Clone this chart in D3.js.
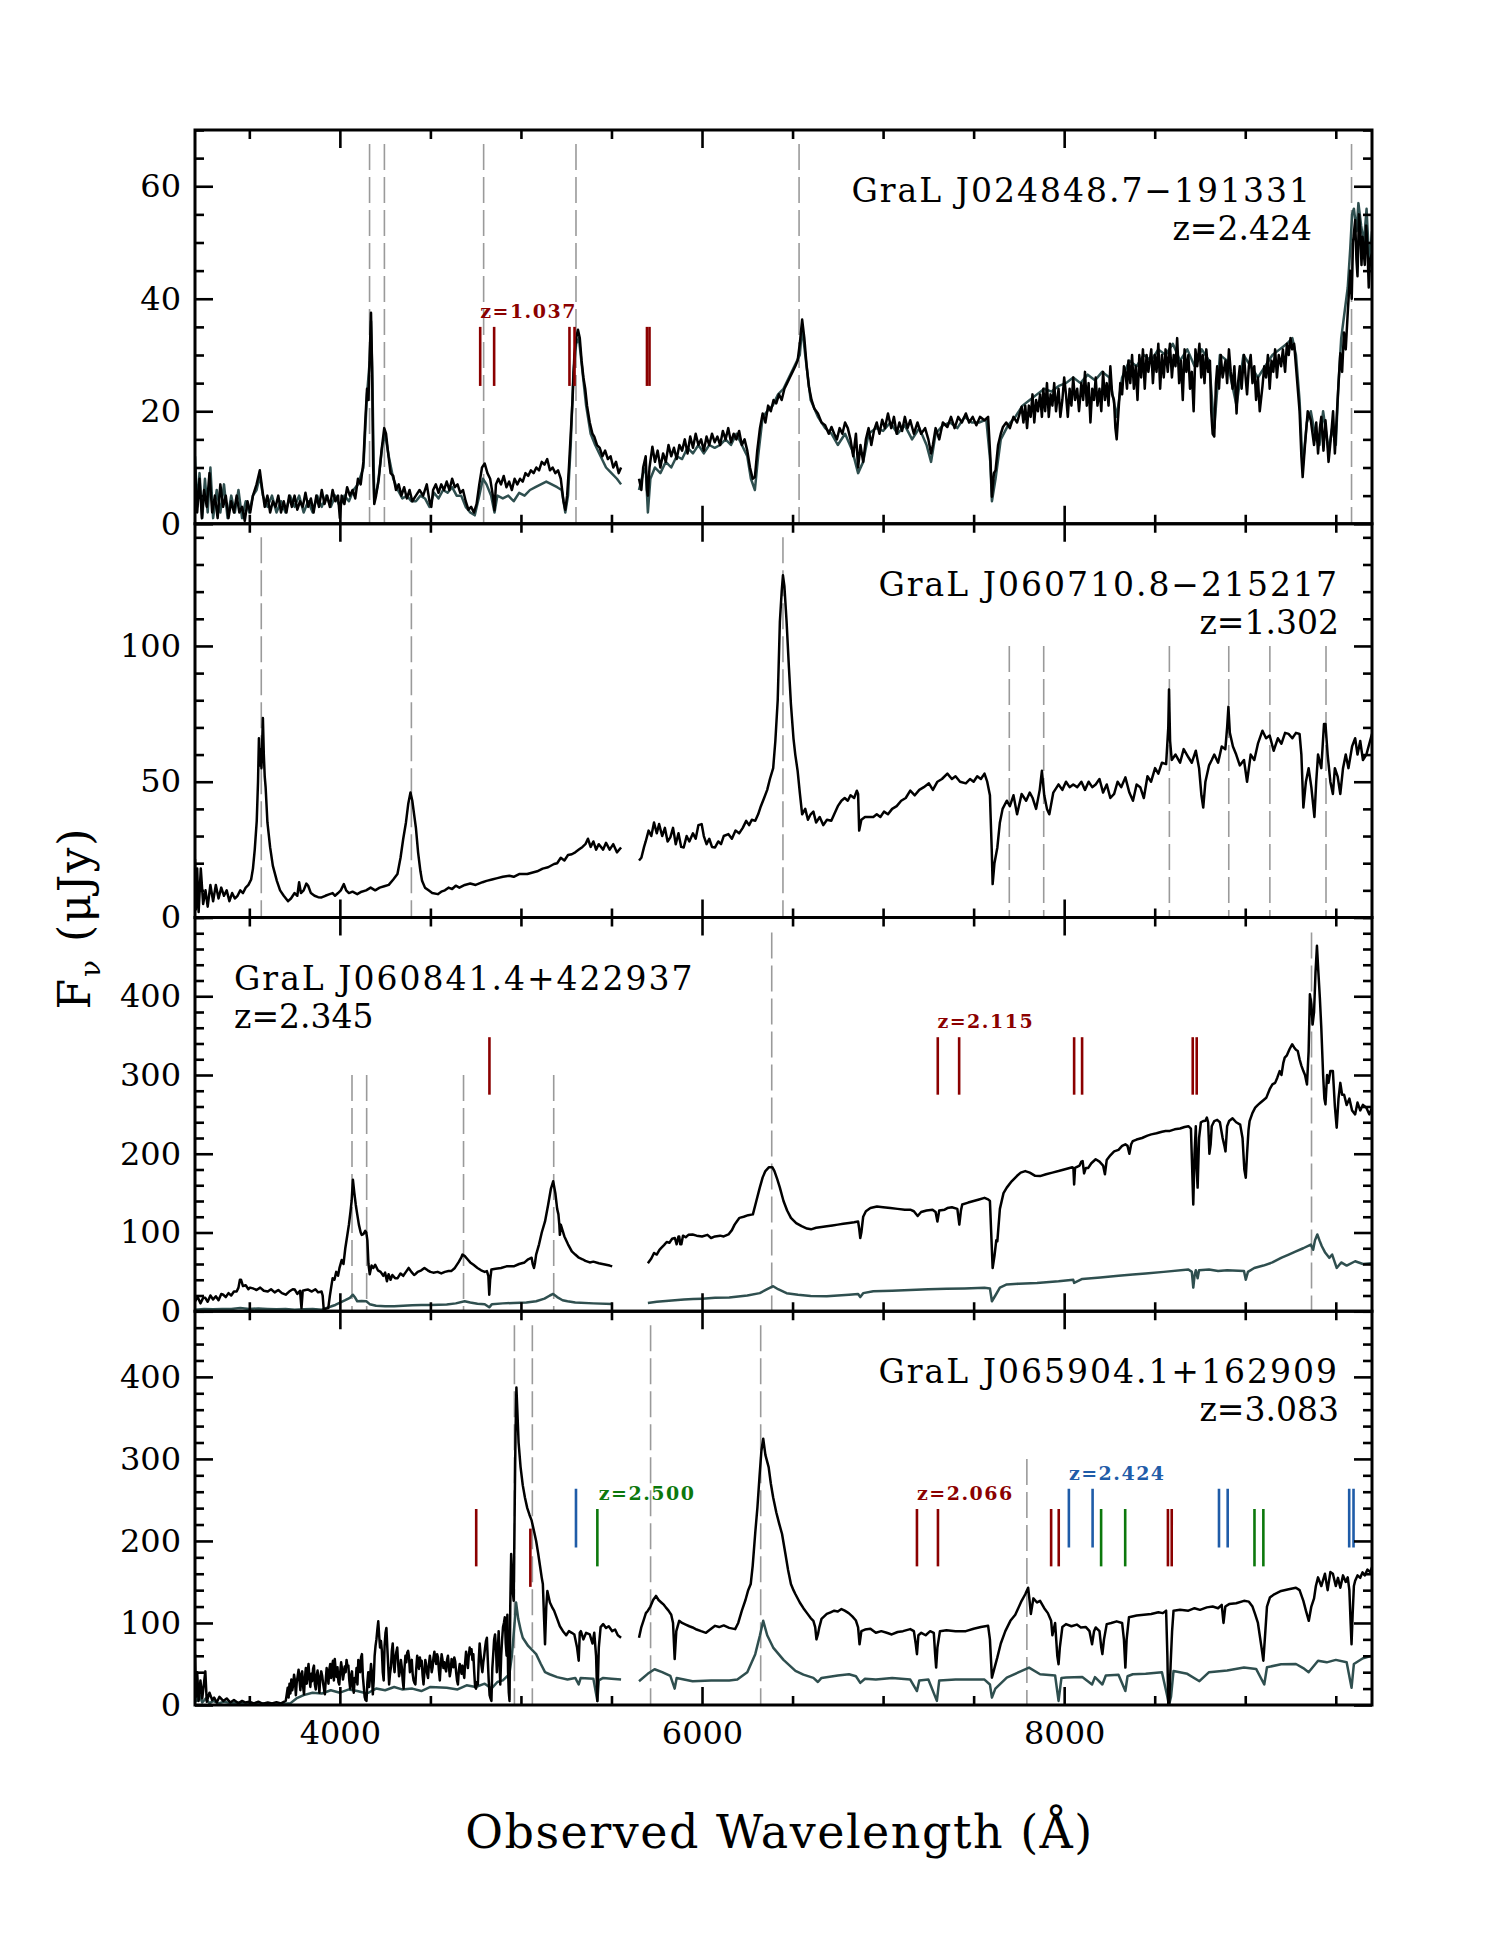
<!DOCTYPE html>
<html><head><meta charset="utf-8">
<script src="https://cdn.jsdelivr.net/npm/d3@7"></script>
<style>body{margin:0;background:#fff} text{font-family:"DejaVu Serif",serif;fill:#000}</style>
</head><body><svg id="chart" width="1495" height="1934"></svg>
<script>
// ---------------- DATA ----------------
const xDomain = [3200, 9700];
const xMajorTicks = [4000, 6000, 8000];
const xMinorStep = 500;
const panelNames = ["GraL J024848.7\u2212191331", "GraL J060710.8\u2212215217", "GraL J060841.4+422937", "GraL J065904.1+162909"];
const panelRedshifts = ["z=2.424", "z=1.302", "z=2.345", "z=3.083"];
const yMax = [70, 145, 500, 480];
const yMajorTicks = [[0, 20, 40, 60], [0, 50, 100], [0, 100, 200, 300, 400], [0, 100, 200, 300, 400]];
const yMinorStep = [5, 10, 20, 20];

// emission-line markers (wavelength, top of dashed line in flux units)
const p1Dashed = [[4164, 67.5], [4246, 67.5], [4794, 67.5], [5304, 67.5], [6536, 67.5], [9587, 67.5]];
const p2Dashed = [[3566, 140], [4395, 140], [6447, 140], [7697, 100], [7887, 100], [8581, 100], [8909, 100], [9136, 100], [9446, 100]];
const p3Dashed = [[4067, 300], [4148, 300], [4683, 300], [5181, 300], [6385, 481], [9366, 481]];
const p4Dashed = [[4964, 463], [5063, 463], [5716, 463], [6324, 463], [7794, 300]];

// absorber tick marks
const p1AbsRed = [4775, 4852, 5268, 5296, 5696, 5710];
const p3AbsRed = [4826, 7302, 7420, 8055, 8099, 8710, 8732];
const p4AbsRed = [4753, 7187, 7303, 7928, 7970, 8573, 8594];
const p4AbsRed2 = [5052];
const p4AbsBlue = [5304, 8026, 8157, 8855, 8903, 9574, 9598];
const p4AbsGreen = [5422, 8204, 8337, 9051, 9100];
const absLabels = ["z=1.037", "z=2.115", "z=2.066", "z=2.424", "z=2.500"];

// spectra: flat lists  wavelength, flux, wavelength, flux ...  (null = gap)
const p1Black = [3200,10,3212,2,3225,8,3238,1,3250,6,3265,3,3280,9,3295,2,3310,5,3325,1,3340,7,3355,3,3370,5,3385,1,3400,4,3415,2,3430,5,3445,2,3460,3,3475,0.5,3490,4,3505,2,3520,5,3540,7,3558,9.5,3572,6,3585,3,3600,5,3615,2,3630,4,3645,3,3660,5,3675,2,3690,4,3705,2,3720,5,3735,3,3750,5,3765,2.5,3780,4,3795,3,3810,5.5,3825,3,3840,4.5,3855,2,3870,5,3885,3,3900,6,3915,3.5,3930,5,3945,3,3960,6,3975,4,3990,5,4000,1,4010,5,4025,3.5,4040,6.5,4055,5,4070,6,4085,4.5,4100,8,4115,7,4130,11,4140,18,4150,24,4158,22,4165,30,4172,37.5,4178,28,4184,10,4190,3.5,4200,5,4215,8,4230,13,4245,17,4255,16,4265,13,4280,9,4295,8.5,4310,6,4325,7,4340,5,4355,6.5,4370,4.5,4385,6,4400,4,4420,5,4440,6,4460,5,4480,7,4495,4,4505,3,4515,6,4530,7,4545,5.5,4560,7,4575,6,4590,7.5,4605,6,4620,8,4635,6.5,4650,7,4665,5.5,4680,6,4695,4,4710,2.5,4725,3,4740,2,4755,3.5,4770,7,4785,10,4800,10.7,4815,9,4830,8,4845,5,4854,2.4,4862,7,4875,8,4890,7,4905,8.5,4920,6.5,4935,7.5,4950,6,4965,8,4980,7,4995,8,5010,7.5,5025,9,5040,8.5,5055,9.5,5070,9,5085,10,5100,9.5,5115,11,5130,10.5,5145,11.5,5160,9.5,5175,10,5190,9,5205,9.5,5220,8,5235,4,5245,2.5,5255,5,5265,10,5275,16,5285,22,5295,30,5305,33,5315,34.5,5325,33,5335,29,5345,26,5355,24,5365,21,5380,18,5395,16,5405,15.5,5420,14,5435,13.5,5450,12,5465,13,5480,11.5,5495,12,5510,10,5525,11,5540,9,5553,10,
5600,null,
5652,8,5665,6,5675,10,5689,12,5696,6,5701,5,5710,10,5726,13.7,5740,11,5755,13,5770,10,5785,12.5,5800,11,5815,14,5830,12,5845,13.5,5860,11.5,5875,14,5890,13,5905,15,5920,12.5,5935,15.5,5950,13.5,5965,16,5980,14,5995,15,6010,13,6025,15.5,6040,14,6055,16,6070,14.5,6085,15.5,6100,14,6115,16.5,6130,15,6145,17,6160,14.5,6175,16,6190,15,6205,16.5,6220,14,6235,15,6250,13,6265,10,6280,8,6292,8.3,6305,13,6320,17,6335,19.6,6350,18,6365,21,6380,20,6395,22,6410,21.4,6425,23,6440,22,6455,24,6470,25,6485,26,6500,27,6515,28,6528,29,6540,32,6553,36.3,6565,33,6578,28,6590,24.4,6605,22,6620,20.5,6640,19.6,6660,18,6680,17.5,6700,16,6715,17.2,6730,16,6745,15,6760,17,6775,16,6790,18,6805,17,6820,15,6835,12,6850,16,6862,10,6875,14,6890,11,6905,15,6920,17,6935,14,6950,16.6,6965,18,6980,16,6995,18.5,7010,17,7027,19.6,7045,17,7060,19,7075,16,7090,18,7105,16.5,7120,19,7135,17,7150,18.4,7170,16,7190,18,7210,16,7232,17,7250,15,7265,12.5,7275,14,7290,17,7310,15,7330,18,7355,17.2,7375,19,7395,17,7415,19,7435,18,7457,19.6,7475,18,7495,19,7515,17.5,7535,19,7560,18.4,7580,19,7592,12,7601,4.8,7612,9,7621,9.5,7635,14,7650,16,7662,17.2,7680,18,7700,17,7720,19,7740,18,7765,20.8,7775,18,7785,21,7795,17,7805,21,7815,19,7825,23,7835,18,7845,22,7855,20,7867,23,7877,19,7885,24,7895,20,7905,25,7915,19,7925,23,7935,21,7945,25,7955,20,7969,24,7979,19,7990,22,8000,26,8010,23,8020,19,8030,24,8040,21,8050,26,8060,22,8072,24,8082,20,8095,25,8105,22,8115,27,8125,21,8135,25,8145,18,8155,24,8165,22,8174,26,8184,21,8195,24,8205,20,8215,27,8225,22,8235,25,8245,21,8255,28,8265,23,8275,22,8283,17,8290,15,8300,20,8310,25,8320,23,8330,28,8338,27,8347,24,8355,29,8365,25,8375,30,8385,24,8395,28,8405,22,8415,30,8425,26,8435,31,8445,24,8455,30,8465,27,8481,31,8490,25,8500,30,8510,27,8520,32,8530,24,8540,30,8550,26,8560,31,8572,27,8584,32,8595,26,8605,30,8615,28,8624,33,8635,25,8645,29,8655,22,8665,31,8675,27,8686,30,8695,24,8705,27,8715,20,8725,31,8735,28,8747,32,8757,26,8765,30,8775,25,8785,31,8795,27,8805,29,8812,20,8820,16,8829,15.5,8838,25,8845,28,8855,24,8865,30,8875,26,8891,29,8900,25,8910,31,8920,27,8930,24,8940,28,8952,19.6,8960,25,8970,28,8980,24,8993,30,9002,26,9010,23,9020,28,9030,30,9040,25,9050,28,9060,22,9070,26,9080,20,9095,24.4,9105,28,9115,26,9125,30,9135,24,9145,29,9155,27,9165,31,9175,26,9185,30,9198,28,9208,31,9220,27,9230,32,9240,30,9250,33,9259,31,9270,32,9280,28,9290,24,9300,20,9310,12,9317,8.3,9330,14,9345,20,9362,18.4,9380,14,9392,18,9402,12.5,9412,17,9420,19,9432,13,9443,18.4,9452,15,9460,11,9475,16,9485,20,9495,12.5,9510,22,9525,30.3,9535,27,9545,34,9555,31,9566,37.5,9580,45,9588,40,9595,50,9607,54,9614,47,9620,44,9628,55,9635,52,9642,46,9648,51,9660,46,9668,53,9675,49,9682,42,9689,47,9700,48];

const p1Gray = [3200,12,3212,3,3225,9,3240,1,3255,8,3270,2,3285,10,3300,1,3320,6,3340,2,3360,7,3380,1,3400,5,3420,2,3440,6,3460,1,3480,4,3500,2,3520,5,3540,6,3558,8.5,3575,5,3600,3,3625,5,3650,2,3675,4,3700,2,3725,5,3750,3,3775,5,3800,2,3825,4,3850,2,3875,5,3900,3,3925,5,3950,3,3975,5,4000,3,4025,5,4050,4,4075,6,4100,7,4130,10,4150,23,4165,29,4172,36,4180,25,4190,4,4210,7,4235,14,4250,16,4270,12,4295,8,4320,6,4345,4.5,4370,5,4395,4,4420,4,4445,5,4470,4.5,4495,3,4520,5.5,4545,4.5,4570,6,4595,5.5,4620,6.5,4645,5,4670,5,4695,3,4720,2,4745,1.5,4770,5,4790,8,4810,7,4835,5,4854,2,4870,5,4900,4.5,4930,5,4960,4,4990,5.5,5020,5,5050,6,5080,6.5,5110,7,5140,7.5,5170,7,5200,6.5,5225,6,5245,2,5260,5,5275,14,5290,27,5305,32,5320,33,5340,27,5360,21,5385,16,5410,14,5440,12,5470,10,5500,9,5530,8,5553,7,
5600,null,
5652,6,5675,9,5689,10,5701,2,5715,8,5740,10,5770,9,5800,11,5830,10,5860,12,5890,11.5,5920,13.5,5950,12.5,5980,14,6010,12.5,6040,14,6070,13.5,6100,14,6130,15,6160,14,6190,16,6220,14,6250,12,6270,8,6292,6,6310,12,6335,19,6360,20,6390,21,6420,23,6450,24,6480,26,6510,28,6540,30,6553,35,6570,30,6600,22,6640,19,6680,17,6715,16,6750,14,6790,16,6830,13,6862,9,6890,11,6920,16,6960,17,7000,16.5,7040,18,7080,16,7120,17.5,7160,15,7200,17,7240,14,7265,11,7290,16,7330,17.5,7370,18,7410,17,7450,19,7490,18,7530,18,7570,18.5,7592,11,7601,4,7621,8,7650,15,7690,17.5,7730,19,7770,21,7810,22,7850,23,7890,24,7930,23.5,7970,24.5,8010,25,8050,26,8090,25,8130,26.5,8170,25.5,8210,27,8250,26,8290,19,8320,26,8360,29,8400,28,8440,30,8480,29,8520,31,8560,30,8600,32,8640,29,8680,31,8720,28,8760,31,8800,29,8829,17,8860,30,8900,29,8952,21,8990,30,9030,28,9070,26,9110,28,9150,30,9190,31,9230,32,9260,33,9280,30,9300,22,9317,10,9340,18,9362,20,9390,15,9410,14,9430,20,9460,13,9480,17,9500,14,9515,25,9530,33,9550,38,9566,42,9580,49,9590,55,9600,56,9615,52,9625,57,9640,53,9655,50,9670,56,9685,46,9700,52];

const p2Black = [3200,21.5,3205,3,3212,18,3220,2,3232,18,3245,5,3258,10,3270,4,3285,12,3300,6,3315,12,3330,7,3345,11,3360,8,3375,10,3390,6,3405,9,3420,7,3435,8,3450,10,3465,9,3480,11,3495,12,3510,14,3520,18,3530,25,3541,35.6,3548,50,3553,66,3558,56,3562,62,3567,55,3575,73.5,3580,60,3585,52,3590,48,3600,35,3615,25.8,3630,19,3652,13.5,3670,10,3690,8,3714,6,3730,7,3750,9,3765,8,3775,13,3785,9,3800,10,3815,12.5,3825,11.7,3840,9,3860,8,3880,7.5,3899,7.4,3920,8,3940,8.5,3960,9,3973,8,3990,9,4005,10,4022,12.3,4035,10,4050,9,4070,9.5,4096,8.6,4120,9.5,4145,10,4170,11,4195,10,4220,11,4245,11.5,4270,12,4295,14,4318,16,4335,22,4350,29,4365,35,4378,42,4390,46,4400,43,4410,38,4420,33,4432,24,4445,17,4454,13.5,4470,11,4490,10,4510,9,4541,8.6,4560,9.5,4580,10,4600,11,4620,10.5,4640,11.7,4660,11,4690,12,4720,12.5,4750,12,4788,13,4810,13.5,4840,14,4870,14.5,4900,15,4936,15.4,4960,15,4990,16,5035,16,5060,16.5,5090,17,5120,18,5150,18.5,5183,19.7,5200,20,5220,22,5240,21,5260,23,5281,23.3,5300,24,5320,25,5340,26,5356,27,5370,29,5385,26,5400,28,5415,25,5430,27,5454,25,5470,27.5,5490,25,5510,27,5530,24,5553,25.8,
5600,null,
5652,21,5665,22,5680,26,5689,28,5705,32,5720,30,5735,35,5750,31,5763,34.4,5780,30,5795,33,5810,28,5825,29.5,5840,33,5855,27,5870,31,5885,26,5899,25.8,5915,30,5930,28,5950,31,5965,29,5980,34,5998,34.4,6010,30,6025,27,6040,29,6055,26,6072,25.8,6090,28,6105,27,6120,30,6146,30.7,6165,29,6185,32,6205,31,6225,33,6244,35.6,6260,34,6275,36,6294,35.6,6310,38,6325,41,6343,44,6360,47,6375,51,6393,55,6405,65,6418,80,6430,109,6440,120,6447,126,6455,122,6467,109,6480,92,6491,78.6,6505,66,6515,60,6528,54,6540,46,6553,38,6570,40,6585,36,6600,38,6615,39,6630,35,6650,37,6670,34,6690,36,6714,35.6,6730,38,6750,41,6770,43,6788,44,6805,43,6820,45,6840,44,6855,46.7,6862,45.5,6868,32,6880,36,6900,37,6924,37,6946,37,6965,38,6985,37,7005,39,7027,38,7050,40,7075,41,7100,43,7125,44,7150,46.7,7175,45,7200,47,7225,48,7253,49.4,7275,47,7300,50,7325,51,7355,53,7380,51,7400,52,7425,50,7457,49.4,7480,51,7500,50,7520,52,7540,51,7560,53,7575,50,7590,45,7600,25,7605,12.3,7615,20,7631,25.8,7645,35,7660,40,7683,43,7700,41,7720,45,7740,38,7765,45.5,7790,43,7810,46,7826,44,7845,40,7865,47,7877,54,7890,45,7905,40,7918,38,7940,46,7969,49,7990,47,8010,50,8030,48,8050,49,8072,48,8095,50,8115,47,8135,50,8155,48,8174,49,8195,51,8215,46,8235,49,8255,44,8276,45.5,8295,50,8315,48,8338,51.6,8360,46,8380,43,8400,49,8420,48,8440,44,8460,52,8480,50,8502,55,8520,53,8540,57,8563,56.5,8575,70,8579,84,8585,65,8594,58,8615,60,8640,57,8660,62,8686,59,8705,57,8727,61.4,8745,55,8758,45,8768,40.5,8780,50,8800,56,8815,58,8829,60,8850,57,8870,63,8890,62,8900,70,8907,77.6,8915,68,8932,63,8950,60,8970,56,8993,58,9010,50,9030,60,9050,58,9070,64,9095,68.8,9115,66,9135,67,9157,61.4,9180,66,9200,64,9220,68,9239,67.6,9260,66,9280,68,9300,67.6,9310,60,9321,40.5,9335,50,9350,55,9365,48,9382,37,9392,50,9402,60,9420,55,9435,71.3,9443,71.3,9455,60,9470,50,9484,45.5,9495,55,9510,52,9525,45.5,9540,55,9555,60,9570,55,9590,63,9607,66,9620,60,9635,65,9650,58,9669,60,9685,64,9700,67.6];

const p3Black = [3200,12.7,3215,18,3230,10,3245,17,3257,17,3270,12,3285,20,3300,15,3315,19,3330,14,3345,22,3356,21,3370,18,3385,23,3400,20,3415,25,3430,25,3440,30,3448,40,3454,40,3465,32,3480,33,3495,28,3504,30,3520,29,3540,27,3560,30,3580,26,3602,25,3620,28,3640,24,3660,27,3680,23,3701,21,3720,25,3740,28,3751,27.5,3765,22,3780,26,3788,4,3795,26,3810,27,3825,27.5,3845,25,3865,28,3880,24,3899,25,3905,20,3911,2,3920,3,3936,4,3945,20,3960,42,3970,40,3980,50,3990,45,3998,55,4010,65,4020,60,4030,80,4040,95,4050,110,4059,127,4065,140,4072,167,4080,150,4088,135,4096,123,4105,110,4115,100,4121,97,4130,98,4140,102,4146,100,4152,90,4158,60,4165,47,4175,58,4185,55,4195,59,4210,52,4225,50,4240,45,4250,49,4260,38,4269,47,4280,40,4290,46,4305,42,4319,42,4335,48,4350,45,4365,50,4380,55,4395,50,4410,46,4417,47,4430,50,4450,52,4467,55,4485,52,4500,50,4516,49,4540,50,4560,48,4580,50,4600,51,4615,51,4635,55,4655,62,4670,68,4677,72,4690,70,4705,66,4720,62,4738,59,4760,55,4780,52,4800,50,4812,51,4820,45,4825,21,4830,40,4837,53,4860,54,4890,55,4920,57,4960,57,4990,60,5020,62,5040,66,5059,68,5065,60,5072,55,5078,62,5084,72,5100,85,5115,100,5133,114,5150,135,5165,155,5178,165,5190,150,5200,130,5207,123,5212,110,5215,97,5220,110,5240,95,5260,85,5281,76,5300,72,5320,68,5340,66,5356,64,5380,62,5400,63,5430,61,5450,60,5470,59,5490,58,5504,57,
5600,null,
5701,61,5720,67,5735,74,5750,72,5765,78,5775,80.5,5790,84,5805,88,5820,87,5835,92,5850,93,5860,85,5870,95,5874,95,5880,85,5886,85,5895,96,5910,94,5925,97,5948,97.5,5970,96,6000,95,6030,97,6050,93,6072,95,6100,96,6120,95,6146,97.5,6165,103,6180,110,6195,115,6207,118.6,6230,120,6255,122,6281,123,6300,140,6319,157,6335,170,6350,178,6370,183,6388,183,6400,178,6415,168,6430,157,6450,140,6470,128,6491,118.6,6520,112,6550,108,6580,105,6602,104,6630,106,6660,107,6689,108,6720,109,6750,110,6780,111,6812,112,6840,113,6862,114,6868,105,6874,93,6880,100,6890,120,6905,127,6930,131,6966,133,7000,132,7040,131,7080,130,7120,129,7150,129,7170,127,7191,121,7210,126,7240,128,7273,129,7290,126,7300,114,7310,128,7340,129,7355,131,7380,132,7410,130,7421,110,7430,128,7437,135.6,7470,138,7500,140,7530,142,7560,144,7580,142,7590,140,7597,100,7605,55,7615,70,7625,90,7631,89,7645,130,7665,150,7683,157,7710,165,7740,172,7760,176,7785,178,7810,176,7840,172,7867,171.6,7900,174,7935,176,7969,178,8000,180,8030,182,8045,183,8051,182,8055,161,8060,182,8085,185,8095,190,8102,190.7,8110,175,8120,182,8133,182,8150,188,8174,193,8195,190,8215,185,8225,174,8235,192,8255,198,8276,203,8300,205,8320,210,8338,212,8350,210,8360,200,8370,212,8379,216,8400,218,8430,220,8460,223,8481,224.6,8510,226,8540,228,8560,229,8584,229,8610,231,8640,232,8665,234,8686,235,8700,232,8707,180,8713,135.6,8720,200,8727,235,8732,180,8737,157,8745,220,8755,240,8768,241.5,8780,242,8788,246,8795,240,8802,200,8809,212,8815,235,8829,241.5,8845,243,8860,240,8875,220,8885,210,8891,203,8900,235,8911,241.5,8930,245,8950,240,8972,237,8985,220,8995,180,9003,169.5,9010,200,9018,230,9024,241.5,9040,252,9055,258.5,9070,262,9085,265,9100,268,9116,271,9135,282,9150,288,9165,290,9177,296.6,9190,305,9200,300,9210,315,9218,322,9230,325,9245,333,9259,339,9270,335,9280,332,9290,330.5,9300,320,9310,312,9321,305,9330,300,9341,288,9350,330,9357,402.5,9365,390,9372,364,9380,380,9388,430,9396,464,9404,430,9412,398,9420,360,9430,300,9437,270,9443,262.7,9452,300,9460,290,9470,305,9484,305,9495,260,9505,233,9515,270,9525,290,9535,275,9546,275,9560,262,9575,270,9590,255,9607,250,9620,265,9635,255,9650,262,9669,258.5,9685,250,9700,258.5];

const p3Gray = [3200,2,3250,3,3300,2.5,3350,3,3400,3,3450,4,3500,3,3550,3.5,3600,3,3650,2.5,3700,3,3750,2,3800,2.5,3850,3,3900,2,3923,4,3950,6,3975,8,3998,10.6,4030,14,4055,17,4072,21,4085,17,4096,12.7,4120,13,4146,12.7,4165,9,4200,7,4250,6.4,4300,6.5,4350,7,4400,7.5,4450,8,4500,8,4590,8.5,4640,10,4689,12.7,4720,11,4760,9.5,4800,9,4825,5,4840,9,4900,10,4960,10.5,5030,11,5084,12.7,5130,16,5160,20,5178,22,5200,18,5230,14,5257,12.7,5300,11,5400,10,5504,9.3,
5600,null,
5701,10.6,5750,12,5800,13,5850,14,5900,15,5950,15.5,6000,16,6072,17,6150,17.5,6250,20,6319,23,6360,28,6393,31.8,6420,28,6467,23,6530,21,6600,19.5,6689,19,6750,20,6812,21,6862,22,6874,18,6890,23,6946,25.4,7050,26,7150,27,7250,28,7350,28.5,7450,29,7560,29.7,7590,29,7601,12.7,7620,20,7645,30,7683,34,7750,35,7850,36,7969,38,8050,40,8055,36,8100,41,8200,43,8300,45,8379,46.6,8450,48,8550,50,8686,53,8705,50,8713,30,8720,45,8727,52,8737,42,8745,52,8800,53,8850,51,8900,52,8993,51,9003,40,9015,50,9050,55,9100,58,9150,62,9198,67.8,9240,72,9280,76,9320,80,9362,84.7,9375,78,9385,90,9398,97.5,9410,90,9423,82.6,9440,75,9464,67.8,9480,72,9505,55,9530,62,9560,58,9607,63.5,9650,60,9700,61];

const p4Black = [3200,62,3205,10,3212,40,3220,5,3230,30,3240,8,3257,41,3265,4,3280,15,3295,6,3306,9,3320,3,3335,10,3356,5,3375,8,3395,3,3415,6,3440,2,3460,5,3479,3,3500,4,3525,2,3550,4,3575,1.5,3602,3,3625,2,3650,3.5,3675,2,
3701,5,3706,12,3712,21,3717,9,3722,26,3727,14,3732,31,3737,18,3742,24,3747,37,3752,30,3757,12,3762,28,3767,35,3772,43,3777,30,3782,18,3787,38,3792,41,3797,22,3802,13,3807,33,3812,45,3817,26,3822,40,3827,50,3832,32,3837,22,3842,38,3847,29,3852,44,3857,48,3862,25,3867,19,3872,36,3877,42,3882,28,3887,15,3892,34,3897,41,3902,36,3907,27,3912,20,3917,13,3922,30,3927,45,3932,38,3937,26,3942,44,3947,50,3952,33,3957,48,3962,54,3967,30,3972,56,3977,42,3982,34,3987,46,3992,28,3997,25,4002,40,4007,52,4012,44,4017,31,4022,38,4027,47,4032,40,4037,55,4042,47,4047,48,4052,30,4057,20,4062,36,4067,41,4072,22,4077,15,4082,33,4087,28,4092,45,4097,25,4102,55,4107,48,4112,40,4117,58,4122,62,4127,35,4132,22,4137,10,4142,6,4147,5,4152,28,4157,40,4162,22,4167,35,4172,50,4177,38,4182,13,4187,30,4192,60,4197,72,4202,80,4207,92,4212,102,4217,85,4222,70,4227,78,4232,66,4237,40,4242,30,4247,72,4252,88,4257,94,4262,70,4267,48,4272,25,4277,38,4282,46,4287,66,4292,75,4297,52,4302,40,4307,58,4312,65,4317,70,4322,50,4327,35,4332,42,4337,55,4342,46,4347,30,4352,20,4357,45,4362,60,4367,52,4372,64,4377,66,4382,58,4387,40,4392,48,4397,55,4402,38,4407,30,4412,27,4417,25,4422,45,4427,60,4432,52,4437,44,4442,58,4447,48,4452,54,4457,36,4462,25,4467,40,4472,55,4477,48,4482,38,4487,33,4492,50,4497,60,4502,52,4507,40,4512,46,4517,58,4522,65,4527,55,4532,50,4537,62,4542,58,4547,42,4552,30,4557,48,4562,62,4567,55,4572,45,4577,52,4582,45,4587,41,4592,55,4597,60,4602,48,4607,35,4612,42,4617,56,4622,55,4627,46,4632,58,4637,53,4642,40,4647,30,4652,25,4657,42,4662,50,4667,44,4672,38,4677,48,4682,40,4687,33,4692,52,4697,65,4702,56,4707,45,4712,60,4717,70,4722,62,4727,68,4732,55,4737,62,4742,40,4747,22,4752,20,4757,28,4762,25,4767,55,4772,75,4777,62,4782,48,4787,40,4792,52,4797,60,4802,70,4807,78,4812,82,4817,55,4822,30,4827,12,4832,8,4837,5,4842,45,4847,62,4852,80,4857,86,4862,70,4867,40,4872,65,4877,90,4882,50,4886,25,4891,60,4896,80,4901,95,4906,100,4911,107,4916,75,4921,60,4925,110,4929,40,4933,15,4937,5,4941,120,4946,184,4954,140,4960,127,4966,250,4970,330,4975,387,4980,360,4987,320,4998,290,5010,268,5022,253,5035,240,5047,232,5059,225,5072,212,5084,200,5095,185,5105,170,5115,155,5121,147.5,5127,110,5133,74,5140,120,5146,139,5160,125,5175,118,5183,115,5200,105,5215,96,5232,90,5250,85,5265,90,5281,88,5295,86,5310,70,5319,54,5325,88,5331,90,5345,80,5360,88,5380,86,5395,75,5405,88,5415,60,5422,5,5430,70,5440,95,5454,98.6,5470,94,5485,96,5504,90,5520,92,5535,85,5553,82,
5600,null,
5652,82,5665,95,5680,105,5690,112,5701,115,5715,120,5730,128,5746,133,5760,128,5775,125,5790,122,5800,119,5815,115,5830,110,5840,100,5849,56,5858,90,5874,102.6,5890,100,5910,98,5930,96,5948,94.5,5970,92,5995,90,6022,88,6045,92,6072,96.5,6095,95,6120,97,6150,94,6183,92.5,6200,100,6220,115,6240,128,6255,140,6269,147.5,6280,170,6294,210,6306,241,6318,280,6328,310,6338,324.6,6350,305,6368,290,6380,270,6393,253,6410,235,6425,222,6442,208.5,6460,185,6475,165,6491,147.5,6505,140,6516,135,6540,125,6560,118,6580,112,6600,106,6615,102.6,6625,95,6632,80,6640,86,6648,95,6660,105,6689,111,6710,113,6730,115,6750,114,6770,117,6788,115,6810,112,6830,108,6850,103,6862,94.5,6870,74,6880,90,6900,92,6930,93,6960,88,6990,90,7020,88,7048,86,7080,89,7110,90,7150,92.5,7170,90,7180,75,7187,62,7195,85,7211,88,7235,85,7260,90,7280,88,7288,60,7293,45.6,7300,70,7314,90,7350,91,7400,90,7457,90,7500,93,7540,95,7580,96.5,7590,80,7601,33.4,7615,45,7631,58,7650,75,7675,90,7703,102.6,7730,110,7765,127,7785,135,7801,143,7810,125,7816,111,7830,130,7850,125,7867,127,7890,118,7910,112,7928,102.6,7935,85,7950,100,7962,60,7969,49.7,7976,70,7990,95,8010,98.6,8040,96,8070,98,8092,94.5,8120,95,8140,90,8154,74,8165,90,8174,94.5,8195,90,8205,70,8211,62,8220,80,8235,98.6,8260,100,8290,102,8320,100,8330,80,8338,45.6,8345,80,8358,107,8400,109,8440,110,8481,111,8520,113,8545,112,8563,115,8570,60,8575,1,8580,1,8588,50,8596,90,8604,115,8640,116,8686,115,8720,118,8750,116,8788,119,8820,120,8850,118,8870,122,8880,100,8890,120,8911,123,8950,124,8993,127,9020,126,9040,120,9054,111,9070,100,9090,70,9100,54,9108,80,9120,120,9136,131,9160,135,9198,139,9240,141,9280,143,9300,140,9321,127,9335,115,9351,102.6,9365,120,9380,130,9390,145,9402,155.6,9420,145,9440,160,9455,140,9470,162,9484,160,9500,145,9512,155,9525,143,9540,158,9555,150,9566,155.6,9575,140,9582,100,9587,74,9593,110,9600,145,9607,151.5,9620,158,9635,155,9648,161.7,9660,158,9675,165,9690,162,9700,168];

const p4Gray = [3200,30,3210,5,3225,12,3240,3,3260,8,3280,2,3300,5,3330,2,3360,4,3400,2,3450,3,3500,1.5,3550,2.5,3600,1.5,3650,2,3700,1.5,3726,2,3760,8,3800,12,3849,15,3900,14,3950,18,4000,15,4050,19,4096,17,4150,14,4200,20,4250,18,4300,22,4343,19,4400,20,4450,17,4500,22,4590,21,4650,19,4700,24,4750,22,4800,26,4837,20,4870,28,4900,30,4936,37.5,4950,60,4965,100,4973,125,4985,105,5000,90,5010,82,5040,72,5084,62,5110,50,5133,40,5158,37.5,5200,34,5257,31,5300,33,5319,25,5330,33,5400,32,5422,5,5430,30,5454,33,5500,32,5553,31,
5600,null,
5652,29,5700,38,5738,43.6,5780,40,5825,35.4,5849,20,5860,33,5948,29,6050,30,6150,30,6195,31,6250,40,6294,62,6320,85,6338,102.6,6360,85,6393,70,6450,55,6516,41.5,6560,37,6615,33,6640,28,6660,33,6750,36,6812,37.5,6850,35,6874,27,6900,32,6960,31,7050,33,7150,31,7187,17,7200,30,7250,31,7297,5,7310,30,7400,31,7500,31,7560,31,7590,25,7601,9,7620,20,7683,33.4,7750,40,7806,45.6,7867,37.5,7950,36,7969,5,7985,33,8010,33.4,8100,34,8154,25,8170,34,8211,25,8230,36,8300,37,8338,17,8350,35,8379,37.5,8450,38,8540,40,8570,10,8579,0,8590,10,8604,41.5,8680,38,8747,29,8800,40,8900,42,8993,45.6,9060,44,9105,25,9120,46,9198,49.7,9280,50,9320,45,9350,40,9402,54,9450,52,9500,55,9560,52,9587,21,9600,50,9650,57,9700,60];

// ---------------- DRAWING ----------------
const svg = d3.select("#chart");
const LEFT = 195, RIGHT = 1372, TOP = 130, PH = 393.75;
const x = d3.scaleLinear().domain(xDomain).range([LEFT, RIGHT]);
const toPairs = a => { const o = []; for (let i = 0; i < a.length; i += 2) o.push([a[i], a[i + 1]]); return o; };

const colBlack = "#000", colGray = "#2f4f4f", colRed = "#8b0000", colBlue = "#1f5ca8", colGreen = "#0c780c", colDash = "#9a9a9a";

const panels = [
  { black: p1Black, gray: p1Gray, dashed: p1Dashed, nameAnchor: "end", nameX: 1312 },
  { black: p2Black, gray: null, dashed: p2Dashed, nameAnchor: "end", nameX: 1339 },
  { black: p3Black, gray: p3Gray, dashed: p3Dashed, nameAnchor: "start", nameX: 234 },
  { black: p4Black, gray: p4Gray, dashed: p4Dashed, nameAnchor: "end", nameX: 1339 }
];

// absorbers per panel: [list, color, yLo, yHi, label, labelX]
const absorbers = [
  [[p1AbsRed, colRed, 24.5, 35, absLabels[0], 4775]],
  [],
  [[p3AbsRed, colRed, 275, 348, absLabels[1], 7300]],
  [[p4AbsRed, colRed, 169, 239, absLabels[2], 7187],
   [p4AbsRed2, colRed, 144, 215, null, 0],
   [p4AbsBlue, colBlue, 192, 263.5, absLabels[3], 8026],
   [p4AbsGreen, colGreen, 169, 239, absLabels[4], 5430]]
];

panels.forEach((p, i) => {
  const y0 = TOP + i * PH;
  const y = d3.scaleLinear().domain([0, yMax[i]]).range([y0 + PH, y0]);
  const g = svg.append("g");
  const cid = "clip" + i;
  svg.append("clipPath").attr("id", cid).append("rect")
    .attr("x", LEFT).attr("y", y0).attr("width", RIGHT - LEFT).attr("height", PH);
  const pg = g.append("g").attr("clip-path", `url(#${cid})`);

  // dashed emission-line markers
  pg.selectAll("line.dash").data(p.dashed).enter().append("line")
    .attr("x1", d => x(d[0])).attr("x2", d => x(d[0]))
    .attr("y1", d => y(d[1])).attr("y2", y(0))
    .attr("stroke", colDash).attr("stroke-width", 1.6).attr("stroke-dasharray", "26,7");

  const line = d3.line().defined(d => d[1] !== null).x(d => x(d[0])).y(d => y(d[1]));
  if (p.gray) pg.append("path").datum(toPairs(p.gray)).attr("d", line)
    .attr("fill", "none").attr("stroke", colGray).attr("stroke-width", 2.5).attr("stroke-linejoin", "round");
  pg.append("path").datum(toPairs(p.black)).attr("d", line)
    .attr("fill", "none").attr("stroke", colBlack).attr("stroke-width", 2.5).attr("stroke-linejoin", "round");

  // absorbers
  absorbers[i].forEach(([list, col, lo, hi, lab, lx]) => {
    pg.selectAll(null).data(list).enter().append("line")
      .attr("x1", d => x(d)).attr("x2", d => x(d))
      .attr("y1", y(lo)).attr("y2", y(hi))
      .attr("stroke", col).attr("stroke-width", 2.6);
    if (lab) g.append("text").attr("x", x(lx)).attr("y", y(hi) - 9)
      .attr("font-size", 19).attr("font-weight", "bold").attr("letter-spacing", 1.5)
      .style("fill", col).text(lab);
  });

  // names
  g.append("text").attr("x", p.nameX).attr("y", y0 + 72).attr("text-anchor", p.nameAnchor)
    .attr("font-size", 33).attr("letter-spacing", 2).text(panelNames[i]);
  g.append("text").attr("x", p.nameX).attr("y", y0 + 110).attr("text-anchor", p.nameAnchor)
    .attr("font-size", 33).attr("letter-spacing", 0).text(panelRedshifts[i]);

  // axes
  const yMinor = d3.range(0, yMax[i] + 0.001, yMinorStep[i]).filter(v => !yMajorTicks[i].includes(v));
  const xMinor = d3.range(3500, 9701, xMinorStep).filter(v => !xMajorTicks.includes(v));
  const styleAxis = sel => { sel.select(".domain").remove(); sel.selectAll("line").attr("stroke", "#000").attr("stroke-width", 2.6); sel.selectAll("text").attr("font-size", 32).style("font-family", '"DejaVu Serif",serif'); };

  g.append("g").attr("transform", `translate(${LEFT},0)`)
    .call(d3.axisLeft(y).tickValues(yMajorTicks[i]).tickSize(-18).tickPadding(14)).call(styleAxis);
  g.append("g").attr("transform", `translate(${LEFT},0)`)
    .call(d3.axisLeft(y).tickValues(yMinor).tickSize(-9).tickFormat("")).call(styleAxis);
  g.append("g").attr("transform", `translate(${RIGHT},0)`)
    .call(d3.axisRight(y).tickValues(yMajorTicks[i]).tickSize(-18).tickFormat("")).call(styleAxis);
  g.append("g").attr("transform", `translate(${RIGHT},0)`)
    .call(d3.axisRight(y).tickValues(yMinor).tickSize(-9).tickFormat("")).call(styleAxis);
  g.append("g").attr("transform", `translate(0,${y0})`)
    .call(d3.axisTop(x).tickValues(xMajorTicks).tickSize(-18).tickFormat("")).call(styleAxis);
  g.append("g").attr("transform", `translate(0,${y0})`)
    .call(d3.axisTop(x).tickValues(xMinor).tickSize(-9).tickFormat("")).call(styleAxis);
  g.append("g").attr("transform", `translate(0,${y0 + PH})`)
    .call(d3.axisBottom(x).tickValues(xMajorTicks).tickSize(-18).tickPadding(16).tickFormat(i === 3 ? d3.format("d") : "")).call(styleAxis);
  g.append("g").attr("transform", `translate(0,${y0 + PH})`)
    .call(d3.axisBottom(x).tickValues(xMinor).tickSize(-9).tickFormat("")).call(styleAxis);

  // frame
  g.append("rect").attr("x", LEFT).attr("y", y0).attr("width", RIGHT - LEFT).attr("height", PH)
    .attr("fill", "none").attr("stroke", "#000").attr("stroke-width", 3);
});

// axis titles
svg.append("text").attr("x", (LEFT + RIGHT) / 2 - 4).attr("y", 1848).attr("text-anchor", "middle")
  .attr("font-size", 46).attr("letter-spacing", 1.5).text("Observed Wavelength (\u00C5)");
const yl = svg.append("text").attr("transform", "translate(90,918) rotate(-90)").attr("text-anchor", "middle")
  .attr("font-size", 44).attr("letter-spacing", 2);
yl.append("tspan").text("F");
yl.append("tspan").attr("dy", 10).attr("font-size", 28).text("\u03BD");
yl.append("tspan").attr("dy", -10).attr("dx", 16).text("(\u03BCJy)");
</script></body></html>
